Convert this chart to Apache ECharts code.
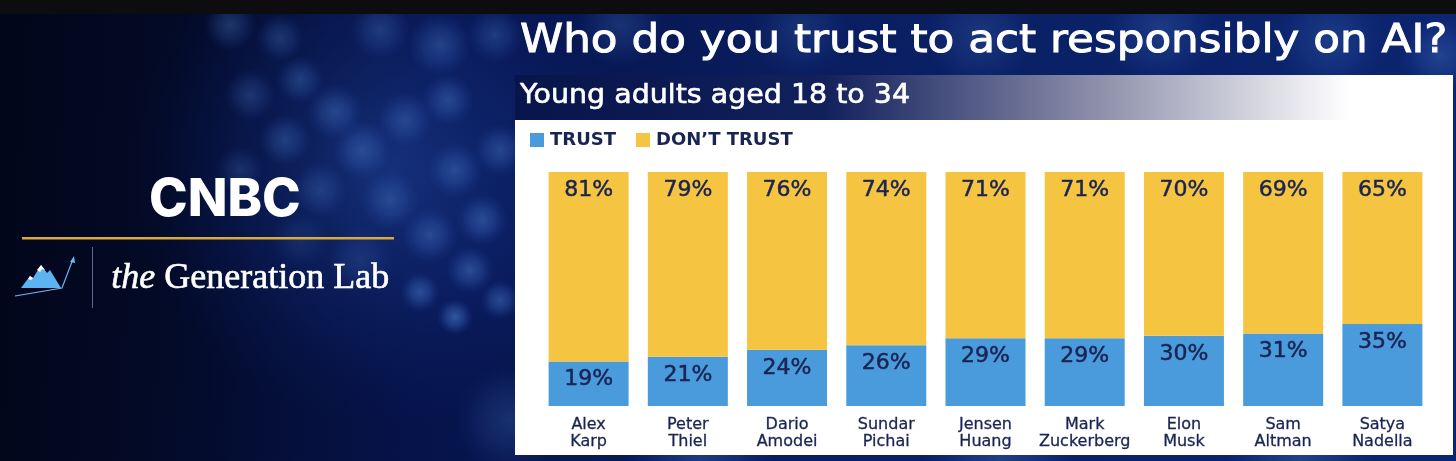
<!DOCTYPE html>
<html>
<head>
<meta charset="utf-8">
<script src="https://cdn.jsdelivr.net/npm/echarts@6/dist/echarts.min.js"></script>
<style>
  html, body { margin: 0; padding: 0; background: #020617; }
  #chart { width: 1456px; height: 461px; }
</style>
</head>
<body>
<div id="chart"></div>
<script>
// data
var people = ['Alex Karp', 'Peter Thiel', 'Dario Amodei', 'Sundar Pichai', 'Jensen Huang',
              'Mark Zuckerberg', 'Elon Musk', 'Sam Altman', 'Satya Nadella'];
var trust = [19, 21, 24, 26, 29, 29, 30, 31, 35];
var dontTrust = [81, 79, 76, 74, 71, 71, 70, 69, 65];
var seriesNames = ['TRUST', 'DON\u2019T TRUST'];

var NAVY = '#1a2453';
var BLUE = '#4a9bdc';
var YELLOW = '#f5c440';
var FONT = '"DejaVu Sans", "Noto Sans", sans-serif';

// soft out-of-focus lights behind everything (decoration only): x, y, radius, alpha
var lights = [
    [230, 25, 26, 0.3], [280, 38, 24, 0.28], [380, 30, 30, 0.28], [440, 45, 32, 0.32],
    [495, 35, 28, 0.28], [250, 95, 26, 0.26], [300, 80, 24, 0.3], [335, 112, 28, 0.34],
    [285, 140, 26, 0.3], [362, 150, 30, 0.34], [405, 120, 28, 0.3], [448, 100, 26, 0.34],
    [240, 170, 24, 0.22], [320, 190, 28, 0.26], [390, 200, 30, 0.3], [455, 170, 28, 0.34],
    [500, 150, 26, 0.34], [430, 235, 28, 0.34], [482, 220, 26, 0.38], [470, 270, 24, 0.4],
    [420, 292, 20, 0.42], [455, 317, 18, 0.5], [500, 300, 20, 0.4], [360, 260, 34, 0.18],
    [300, 240, 30, 0.14], [620, 25, 44, 0.22], [800, 30, 50, 0.18], [980, 35, 55, 0.2],
    [1160, 30, 55, 0.22], [1330, 40, 55, 0.22], [1440, 55, 40, 0.28], [510, 420, 55, 0.22],
    [700, 462, 75, 0.28], [1000, 462, 75, 0.28], [1300, 462, 75, 0.28]
];

function bokeh(l) {
    return {
        type: 'circle',
        z: 1,
        silent: true,
        shape: { cx: l[0], cy: l[1], r: l[2] },
        style: {
            fill: {
                type: 'radial', x: 0.5, y: 0.5, r: 0.5,
                colorStops: [
                    { offset: 0, color: 'rgba(90,145,225,' + l[3] + ')' },
                    { offset: 0.5, color: 'rgba(70,120,210,' + (l[3] * 0.65) + ')' },
                    { offset: 1, color: 'rgba(40,80,190,0)' }
                ]
            }
        }
    };
}

var graphics = [
    // backdrop
    {
        type: 'rect', z: 0, silent: true,
        shape: { x: 0, y: 0, width: 1456, height: 461 },
        style: {
            fill: {
                type: 'linear', x: 0, y: 0, x2: 1, y2: 0.2,
                colorStops: [
                    { offset: 0, color: '#02061a' },
                    { offset: 0.12, color: '#030a26' },
                    { offset: 0.3, color: '#06134a' },
                    { offset: 0.6, color: '#0a1f62' },
                    { offset: 1, color: '#0c2570' }
                ]
            }
        }
    },
    {
        // broad blue haze over the middle of the backdrop
        type: 'circle', z: 0, silent: true,
        shape: { cx: 390, cy: 170, r: 260 },
        style: {
            fill: {
                type: 'radial', x: 0.5, y: 0.5, r: 0.5,
                colorStops: [
                    { offset: 0, color: 'rgba(35,75,165,0.55)' },
                    { offset: 0.6, color: 'rgba(20,50,140,0.25)' },
                    { offset: 1, color: 'rgba(10,30,110,0)' }
                ]
            }
        }
    }
].concat(lights.map(bokeh)).concat([
    // black strip on top
    { type: 'rect', z: 2, silent: true, shape: { x: 0, y: 0, width: 1456, height: 14 }, style: { fill: '#0d0d0f' } },
    // title and subtitle band (stretched a bit: the original face is wider)
    {
        type: 'text', z: 3, x: 520, y: 22, scaleX: 1.12, silent: true,
        style: { text: 'Who do you trust to act responsibly on AI?', fill: '#ffffff',
                 stroke: '#ffffff', lineWidth: 0.9,
                 font: 'normal 39px ' + FONT, verticalAlign: 'top' }
    },
    {
        type: 'rect', z: 2, silent: true,
        shape: { x: 515, y: 75, width: 938, height: 46 },
        style: {
            fill: {
                type: 'linear', x: 0, y: 0, x2: 1, y2: 0,
                colorStops: [
                    { offset: 0, color: 'rgba(8,20,72,0.85)' },
                    { offset: 0.33, color: 'rgba(18,32,92,0.95)' },
                    { offset: 0.62, color: '#8d8faa' },
                    { offset: 0.89, color: '#ffffff' },
                    { offset: 1, color: '#ffffff' }
                ]
            }
        }
    },
    {
        type: 'text', z: 3, x: 520, y: 83, scaleX: 1.095, silent: true,
        style: { text: 'Young adults aged 18 to 34', fill: '#ffffff', stroke: '#ffffff', lineWidth: 0.6,
                 font: 'normal 26px ' + FONT, verticalAlign: 'top' }
    },
    // white chart panel
    { type: 'rect', z: 2, silent: true, shape: { x: 515, y: 120, width: 938, height: 335 }, style: { fill: '#ffffff' } },
    // left branding
    {
        type: 'text', z: 3, left: 149, top: 174,
        style: { text: 'CNBC', fill: '#ffffff', font: '800 52px Inter, sans-serif' }
    },
    { type: 'rect', z: 3, silent: true, shape: { x: 22, y: 237, width: 372, height: 2.5 }, style: { fill: '#d9aa3c' } },
    { type: 'line', z: 3, silent: true, shape: { x1: 92.5, y1: 247, x2: 92.5, y2: 308 }, style: { stroke: '#5b6a8c', lineWidth: 1 } },
    {
        type: 'polyline', z: 3, silent: true,
        shape: { points: [[15, 296], [62, 288], [73, 259]] },
        style: { stroke: '#6fb6ee', lineWidth: 1.2, fill: null }
    },
    {
        type: 'polygon', z: 3, silent: true,
        shape: { points: [[70, 262], [74, 256], [75, 263]] },
        style: { fill: '#6fb6ee' }
    },
    {
        type: 'polygon', z: 3, silent: true,
        shape: { points: [[21, 288], [30, 276], [33, 278], [41, 265], [47, 273], [50, 270], [61, 288]] },
        style: { fill: '#5db3f0' }
    },
    {
        type: 'polygon', z: 4, silent: true,
        shape: { points: [[37, 270], [41, 265], [45, 270], [42, 269], [40, 272]] },
        style: { fill: '#ffffff' }
    },
    {
        type: 'polygon', z: 4, silent: true,
        shape: { points: [[28, 279], [30, 276], [33, 278], [31, 280]] },
        style: { fill: '#ffffff' }
    },
    {
        type: 'text', z: 3, left: 111, top: 260,
        style: {
            text: '{i|the} Generation Lab',
            fill: '#ffffff',
            stroke: '#ffffff',
            lineWidth: 0.6,
            font: '36px "Liberation Serif", "DejaVu Serif", serif',
            rich: { i: { fontStyle: 'italic', fontFamily: '"Liberation Serif", serif', fontSize: 36, fill: '#ffffff', fontWeight: 'normal' } }
        }
    }
]);

var chart = echarts.init(document.getElementById('chart'));

function bar(name, data, color) {
    return {
        name: name,
        type: 'bar',
        stack: 'all',
        data: data,
        barWidth: 80,
        z: 5,
        itemStyle: { color: color },
        label: {
            show: true,
            position: 'insideTop',
            distance: 7,
            formatter: '{c}%',
            color: NAVY,
            textBorderColor: NAVY,
            textBorderWidth: 0.5,
            fontFamily: FONT,
            fontSize: 22,
            fontWeight: 'normal'
        },
        emphasis: { disabled: true }
    };
}

chart.setOption({
    animation: false,
    graphic: graphics,
    legend: {
        left: 525,
        top: 126,
        z: 5,
        icon: 'rect',
        itemWidth: 14,
        itemHeight: 14,
        itemGap: 20,
        selectedMode: false,
        textStyle: { color: NAVY, fontFamily: FONT, fontSize: 18, fontWeight: 'bold', padding: [0, 0, 0, 1] },
        data: seriesNames
    },
    grid: { left: 539, right: 24, top: 172, bottom: 55 },
    xAxis: {
        type: 'category',
        data: people,
        z: 5,
        axisLine: { show: false },
        axisTick: { show: false },
        axisLabel: {
            interval: 0,
            color: NAVY,
            textBorderColor: NAVY,
            textBorderWidth: 0.3,
            fontFamily: FONT,
            fontSize: 16,
            lineHeight: 17,
            margin: 10,
            formatter: function (v) { return v.replace(' ', '\n'); }
        }
    },
    yAxis: {
        type: 'value',
        min: 0,
        max: 100,
        show: false
    },
    series: [
        bar(seriesNames[0], trust, BLUE),
        bar(seriesNames[1], dontTrust, YELLOW)
    ]
});
</script>
</body>
</html>
